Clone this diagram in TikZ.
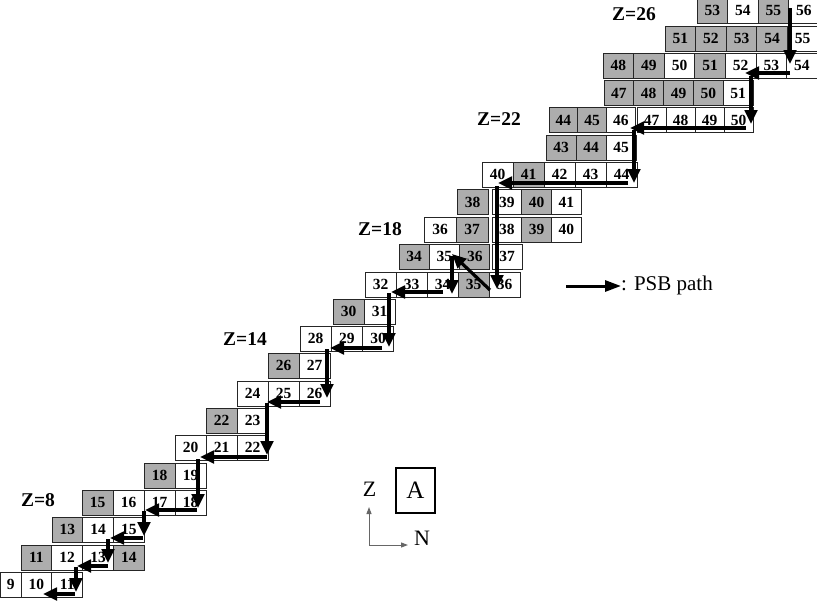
\documentclass[tikz,border=0pt]{standalone}
\usepackage{fontspec}
\setmainfont{Liberation Serif}
\usetikzlibrary{arrows.meta}
\colorlet{sh}{black!32}
\colorlet{wh}{white}
\tikzset{
  cellbox/.style={draw=black!85, line width=0.9pt, minimum height=25pt, inner sep=0pt,
    font=\bfseries\fontsize{15.5}{15.5}\selectfont},
  psb/.style={line width=3.2pt, -{Triangle[length=14pt,width=12.5pt]}},
  zlab/.style={font=\bfseries\fontsize{19.5}{19.5}\selectfont, inner sep=0pt},
  axis/.style={draw=black!60, line width=1pt, -{Triangle[length=7pt,width=5pt]}},
  axlab/.style={font=\fontsize{22}{22}\selectfont, inner sep=0pt}
}
\newcommand\cellrow[5]{%
  \foreach \lab/\sty [count=\i from 0] in {#5} {
    \node[cellbox, fill=\sty, minimum width=#4pt] (#1-\i) at ({#3+(\i+0.5)*#4}, {#2+12.5}) {\lab};
  }%
}
\newcommand\psbseg[3]{%
  \coordinate (#1a) at (#2);
  \coordinate (#1b) at (#3);
  \draw[psb] (#1a) -- (#1b);%
}
\begin{document}
\begin{tikzpicture}[x=1pt,y=-1pt]
\useasboundingbox (0,0) rectangle (817,613);
% cells
\node[cellbox, fill=wh, minimum width=20.5pt] (r1-9) at (10.75,584.5) {9};
\cellrow{r1}{572}{21}{30.8}{10/wh,11/wh}
\cellrow{r2}{545}{21}{30.8}{11/sh,12/wh,13/wh,14/sh}
\cellrow{r3}{517}{52}{30.7}{13/sh,14/wh,15/wh}
\cellrow{r4}{490}{82}{31}{15/sh,16/wh,17/wh,18/wh}
\cellrow{r5}{463}{144}{31}{18/sh,19/wh}
\cellrow{r6}{435}{175}{31}{20/wh,21/wh,22/wh}
\cellrow{r7}{408}{206}{31}{22/sh,23/wh}
\cellrow{r8}{381}{237}{31}{24/wh,25/wh,26/wh}
\cellrow{r9}{353}{268}{31}{26/sh,27/wh}
\cellrow{r10}{326}{300}{31.2}{28/wh,29/wh,30/wh}
\cellrow{r11}{299}{333}{31}{30/sh,31/wh}
\cellrow{r12}{272}{365}{31}{32/wh,33/wh,34/wh,35/sh,36/wh}
\cellrow{r13}{244}{399}{30.3}{34/sh,35/wh,36/sh}
\cellrow{r13b}{244}{492}{30}{37/wh}
\cellrow{r14}{217}{424}{32}{36/wh,37/sh}
\cellrow{r14b}{217}{492}{29.7}{38/wh,39/sh,40/wh}
\cellrow{r15}{189.5}{457}{31}{38/sh}
\cellrow{r15b}{189.5}{492}{29.7}{39/wh,40/sh,41/wh}
\cellrow{r16}{162}{482}{31}{40/wh,41/sh,42/wh,43/wh,44/wh}
\cellrow{r17}{135}{546}{30}{43/sh,44/sh,45/wh}
\cellrow{r18}{107.5}{549}{28.7}{44/sh,45/sh,46/wh}
\cellrow{r18b}{107.5}{637}{29}{47/wh,48/wh,49/wh,50/wh}
\cellrow{r19}{80.5}{604}{29.8}{47/sh,48/sh,49/sh,50/sh,51/wh}
\cellrow{r20}{53}{603}{30.6}{48/sh,49/sh,50/wh,51/sh,52/wh,53/wh,54/wh}
\cellrow{r21}{26}{665}{30.6}{51/sh,52/sh,53/sh,54/sh,55/wh}
\cellrow{r22}{-2}{697}{30.5}{53/sh,54/wh,55/sh,56/wh}
% PSB path
\psbseg{s1}{790,8}{790,64}
\psbseg{s2}{790,73}{745,73}
\psbseg{s3}{751,76}{751,124}
\psbseg{s4}{746,128}{630,128}
\psbseg{s5}{634,130}{634,183}
\psbseg{s6}{628,183}{498,183}
\psbseg{s7}{497,186}{497,289}
\psbseg{s8}{490,290}{452,254}
\psbseg{s9}{452,256}{452,294}
\psbseg{s10}{443,292}{391,292}
\psbseg{s11}{389,293}{389,347}
\psbseg{s12}{382,348}{330,348}
\psbseg{s13}{327,349}{327,398}
\psbseg{s14}{320,402}{267,402}
\psbseg{s15}{267,403}{267,455}
\psbseg{s16}{267,457}{200,457}
\psbseg{s17}{198,459}{198,508}
\psbseg{s18}{197,510}{145,510}
\psbseg{s19}{144,511}{144,536}
\psbseg{s20}{143,538}{110,538}
\psbseg{s21}{108,539}{108,563}
\psbseg{s22}{108,566}{77,566}
\psbseg{s23}{76,567}{76,592}
\psbseg{s24}{75,594}{43,594}
% Z labels
\node[zlab] (z26) at (634,14) {Z=26};
\node[zlab] (z22) at (499,119) {Z=22};
\node[zlab] (z18) at (380,229) {Z=18};
\node[zlab] (z14) at (245,339) {Z=14};
\node[zlab] (z8) at (38,500) {Z=8};
% legend
\coordinate (lga) at (566,286);
\coordinate (lgb) at (621,286);
\draw[line width=3pt, -{Triangle[length=16pt,width=11pt]}] (lga) -- (lgb);
\node[anchor=west, inner sep=0pt, font=\fontsize{21}{21}\selectfont] (lgt) at (621,285) {: PSB path};
% axes
\coordinate (org) at (369,545);
\coordinate (zend) at (369,507);
\coordinate (nend) at (408,545);
\draw[axis] (org) -- (zend);
\draw[axis] (org) -- (nend);
\node[axlab] (zl) at (369.5,489.5) {Z};
\node[axlab] (nl) at (422,538) {N};
\node[draw, line width=2pt, minimum width=39pt, minimum height=45pt, inner sep=0pt,
  font=\fontsize{25}{25}\selectfont] (boxa) at (415.5,490.5) {A};
\end{tikzpicture}
\end{document}
